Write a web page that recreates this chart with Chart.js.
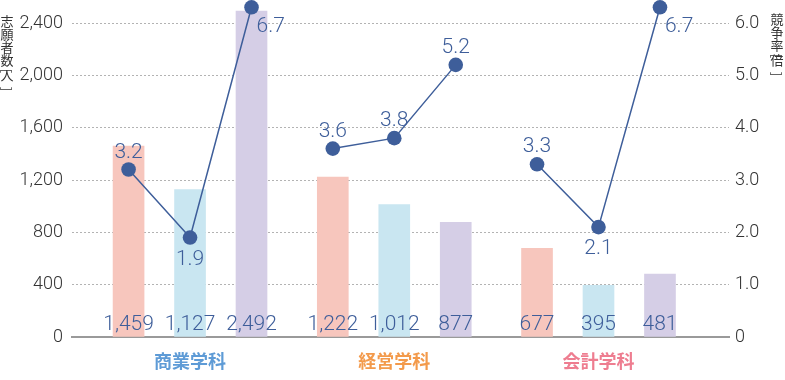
<!DOCTYPE html>
<html>
<head>
<meta charset="utf-8">
<script src="https://cdn.jsdelivr.net/npm/chart.js@4/dist/chart.umd.min.js"></script>
<style>
  html, body { margin: 0; padding: 0; background: #ffffff; }
  #wrap { width: 785px; height: 380px; }
</style>
</head>
<body>
<div id="wrap"><canvas id="c" width="785" height="380"></canvas></div>
<script>
// ---- data ----
const groups = ['商業学科', '経営学科', '会計学科'];
const applicants = [1459, 1127, 2492, 1222, 1012, 877, 677, 395, 481];
const ratios = [3.2, 1.9, 6.7, 3.6, 3.8, 5.2, 3.3, 2.1, 6.7];
const leftTicks = [0, 400, 800, 1200, 1600, 2000, 2400];
const rightTicks = [0, 1, 2, 3, 4, 5, 6];
const leftTitle = ['志', '願', '者', '数', '[', '人', ']'];
const rightTitle = ['競', '争', '率', '[', '倍', ']'];

// ---- styles / layout ----
const groupColors = ['#5e9bd6', '#f39a4b', '#ee7d90'];
const yearColors = ['#f7c6bd', '#c9e6f1', '#d5cee6'];
const LINE_COLOR = '#3e5e9a';
const TEXT_COLOR = '#333333';
const NUM_FONT = 'Roboto, "Liberation Sans", sans-serif';
const CJK_FONT = '"Noto Sans CJK JP", sans-serif';
const YEAR_STEP = 0.301;
const Y_MAX = 2520, Y2_MAX = 6.3;
const X_MIN = -0.578, X_MAX = 2.639;
const perGroup = 3;

const xPos = i => Math.floor(i / perGroup) + (i % perGroup - 1) * YEAR_STEP;

const barDataset = {
  type: 'bar',
  data: applicants.map((v, i) => ({ x: xPos(i), y: v })),
  backgroundColor: applicants.map((v, i) => yearColors[i % perGroup]),
  barThickness: 31,
  yAxisID: 'y',
  order: 2
};

const lineDatasets = groups.map((g, gi) => ({
  type: 'line',
  data: ratios.slice(gi * perGroup, gi * perGroup + perGroup)
    .map((r, j) => ({ x: xPos(gi * perGroup + j), y: Math.min(r, Y2_MAX) })),
  borderColor: LINE_COLOR,
  backgroundColor: LINE_COLOR,
  borderWidth: 1.5,
  pointRadius: 7.3,
  pointBackgroundColor: LINE_COLOR,
  pointBorderWidth: 0,
  tension: 0,
  clip: false,
  yAxisID: 'y2',
  order: 1
}));

function drawVerticalTitle(ctx, chars, x, y) {
  let cy = y;
  chars.forEach(ch => {
    if (ch === '[' || ch === ']') {
      ctx.save();
      ctx.translate(x, cy + (ch === '[' ? 4 : 7));
      ctx.rotate(Math.PI / 2);
      ctx.textAlign = 'center';
      ctx.textBaseline = 'middle';
      ctx.fillText(ch, 0, 0);
      ctx.restore();
      cy += (ch === '[' ? 2 : 13);
    } else {
      ctx.textAlign = 'center';
      ctx.textBaseline = 'top';
      ctx.fillText(ch, x, cy);
      cy += 13;
    }
  });
}

const labelPlugin = {
  id: 'valueLabels',
  afterDatasetsDraw(chart) {
    const ctx = chart.ctx;
    ctx.save();
    ctx.fillStyle = LINE_COLOR;
    ctx.font = '300 21px ' + NUM_FONT;
    ctx.textBaseline = 'alphabetic';
    const base = chart.scales.y.getPixelForValue(0);
    chart.getDatasetMeta(0).data.forEach((b, i) => {
      ctx.textAlign = 'center';
      ctx.fillText(applicants[i].toLocaleString('en-US'), b.x, base - 7.5);
    });
    groups.forEach((g, gi) => {
      const pts = chart.getDatasetMeta(gi + 1).data;
      const vals = ratios.slice(gi * perGroup, gi * perGroup + perGroup);
      pts.forEach((p, j) => {
        const r = vals[j];
        const txt = r.toFixed(1);
        const low = j > 0 && j < vals.length - 1 && r < vals[j - 1] && r < vals[j + 1];
        if (r > Y2_MAX) {
          ctx.textAlign = 'left';
          ctx.fillText(txt, p.x + 5, p.y + 25);
        } else if (low) {
          ctx.textAlign = 'center';
          ctx.fillText(txt, p.x, p.y + 27);
        } else {
          ctx.textAlign = 'center';
          ctx.fillText(txt, p.x, p.y - 12);
        }
      });
    });
    ctx.restore();
  },
  afterDraw(chart) {
    const ctx = chart.ctx;
    ctx.save();
    ctx.fillStyle = TEXT_COLOR;
    ctx.font = '13px ' + CJK_FONT;
    drawVerticalTitle(ctx, leftTitle, 7, 15);
    drawVerticalTitle(ctx, rightTitle, 777, 13);
    ctx.restore();
  }
};

const noEdgePadding = s => { s.paddingTop = 0; s.paddingBottom = 0; };

new Chart(document.getElementById('c'), {
  data: { datasets: [barDataset, ...lineDatasets] },
  options: {
    responsive: false,
    devicePixelRatio: 1,
    animation: false,
    layout: { padding: { top: 6, left: 0, right: 0, bottom: 0 } },
    plugins: { legend: { display: false }, tooltip: { enabled: false } },
    scales: {
      x: {
        type: 'linear',
        position: 'bottom',
        offset: false,
        min: X_MIN,
        max: X_MAX,
        grid: { display: false, drawTicks: false },
        border: { display: true, color: '#9a9a9a', width: 2 },
        afterBuildTicks: s => { s.ticks = groups.map((g, i) => ({ value: i })); },
        afterFit: s => { s.height = 43; s.paddingLeft = 0; s.paddingRight = 0; },
        ticks: {
          autoSkip: false,
          maxRotation: 0,
          padding: 13,
          callback: v => groups[v] ?? '',
          color: c => groupColors[c.tick ? c.tick.value : c.index] || TEXT_COLOR,
          font: { family: CJK_FONT, size: 18, weight: '700' }
        }
      },
      y: {
        type: 'linear',
        position: 'left',
        min: 0,
        max: Y_MAX,
        afterBuildTicks: s => { s.ticks = leftTicks.map(v => ({ value: v })); },
        afterFit: s => { s.width = 72; noEdgePadding(s); },
        grid: {
          drawTicks: false,
          color: c => (c.tick && c.tick.value === 0) ? 'rgba(0,0,0,0)' : '#b3b3b3',
          lineWidth: 1,
          borderDash: [2, 2]
        },
        border: { display: false, dash: [2, 2] },
        ticks: {
          padding: 9,
          color: TEXT_COLOR,
          font: { family: NUM_FONT, size: 18, weight: '300' },
          callback: v => v.toLocaleString('en-US')
        }
      },
      y2: {
        type: 'linear',
        position: 'right',
        min: 0,
        max: Y2_MAX,
        afterBuildTicks: s => { s.ticks = rightTicks.map(v => ({ value: v })); },
        afterFit: s => { s.width = 56; noEdgePadding(s); },
        grid: { display: false, drawTicks: false },
        border: { display: false },
        ticks: {
          padding: 6,
          color: TEXT_COLOR,
          font: { family: NUM_FONT, size: 18, weight: '300' },
          callback: v => v === 0 ? '0' : v.toFixed(1)
        }
      }
    }
  },
  plugins: [labelPlugin]
});
</script>
</body>
</html>
